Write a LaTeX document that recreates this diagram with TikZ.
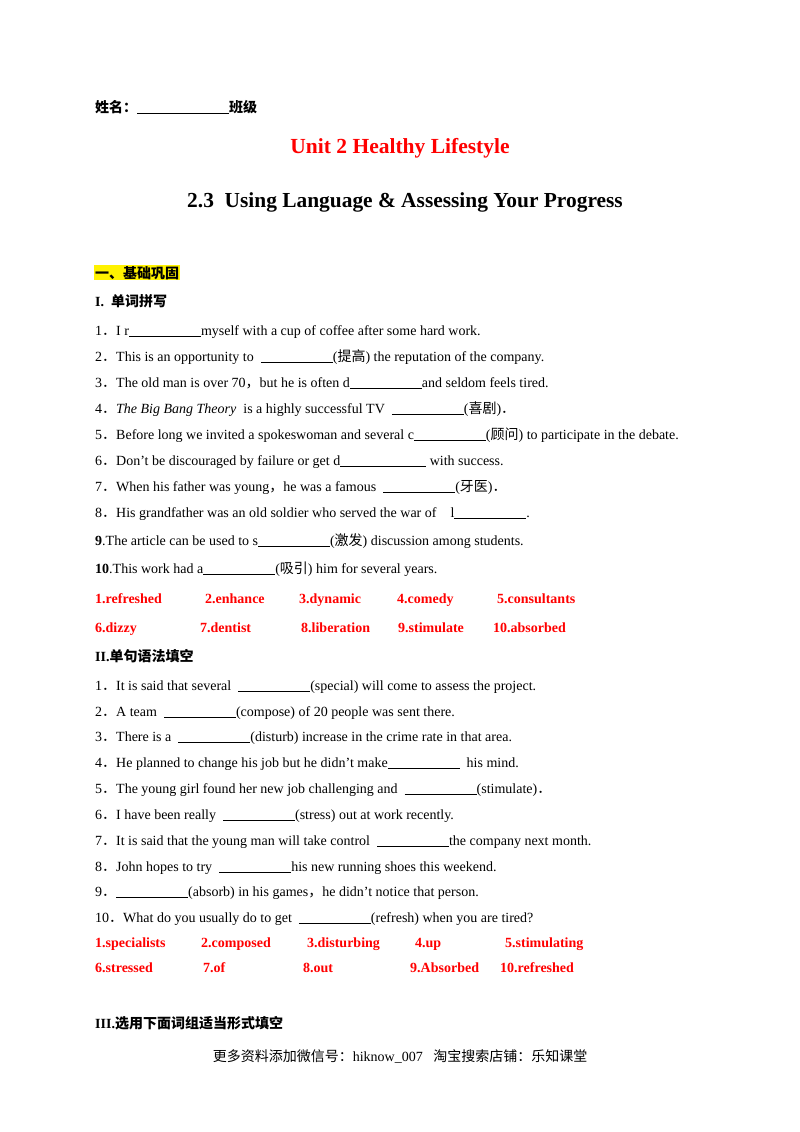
\documentclass[tikz,border=0pt]{standalone}
\usepackage{fontspec}
\setmainfont{Liberation Serif}
\newfontfamily\cjkf{Noto Sans CJK SC}
\newcommand{\cj}[1]{{\cjkf #1}}
\newcommand{\bl}[1]{\rule[-2pt]{#1pt}{0.6pt}}
\newcommand{\dt}{\cj{．}}
\definecolor{ansred}{RGB}{255,0,0}
\begin{document}
\begin{tikzpicture}[x=1pt,y=-1pt,
  txt/.style={anchor=base west,inner sep=0pt,yshift=-5pt,font=\fontsize{14}{16}\selectfont},
  hd/.style={txt,font=\fontsize{14}{16}\selectfont\bfseries},
  ans/.style={txt,text=ansred,font=\fontsize{14}{16}\selectfont\bfseries}]
\useasboundingbox[fill=white] (0,0) rectangle (800,1132);
\node[hd] (name) at (95,107) {\cj{姓名：}\bl{92}\cj{班级}};
\node[anchor=center,inner sep=0,text=ansred,font=\fontsize{21.5}{24}\selectfont\bfseries] (title) at (400,148) {Unit 2 Healthy Lifestyle};
\node[anchor=center,inner sep=0,font=\fontsize{21.4}{24}\selectfont\bfseries] (sub) at (405,202) {2.3\ \ Using Language \& Assessing Your Progress};
\node[hd,fill=yellow,inner sep=1pt] (s1) at (94,273) {\cj{一、基础巩固}};
\node[hd] (p1) at (95,301) {I.\ \ \cj{单词拼写}};
\node[txt] (a1) at (95,330) {1\dt I r\bl{72}myself with a cup of coffee after some hard work.};
\node[txt] (a2) at (95,356) {2\dt This is an opportunity to \ \bl{72}(\cj{提高}) the reputation of the company.};
\node[txt] (a3) at (95,382) {3\dt The old man is over 70\cj{，}but he is often d\bl{72}and seldom feels tired.};
\node[txt] (a4) at (95,408) {4\dt \textit{The Big Bang Theory}\ \ is a highly successful TV \ \bl{72}(\cj{喜剧})\cj{．}};
\node[txt] (a5) at (95,434) {5\dt Before long we invited a spokeswoman and several c\bl{72}(\cj{顾问}) to participate in the debate.};
\node[txt] (a6) at (95,460) {6\dt Don't be discouraged by failure or get d\bl{86} with success.};
\node[txt] (a7) at (95,486) {7\dt When his father was young\cj{，}he was a famous \ \bl{72}(\cj{牙医})\cj{．}};
\node[txt] (a8) at (95,512) {8\dt His grandfather was an old soldier who served the war of \ \ \ l\bl{72}.};
\node[txt] (a9) at (95,540) {\textbf{9}.The article can be used to s\bl{72}(\cj{激发}) discussion among students.};
\node[txt] (a10) at (95,568) {\textbf{10}.This work had a\bl{72}(\cj{吸引}) him for several years.};
\node[ans] (k1) at (95,598) {1.refreshed};
\node[ans] (k2) at (205,598) {2.enhance};
\node[ans] (k3) at (299,598) {3.dynamic};
\node[ans] (k4) at (397,598) {4.comedy};
\node[ans] (k5) at (497,598) {5.consultants};
\node[ans] (k6) at (95,627) {6.dizzy};
\node[ans] (k7) at (200,627) {7.dentist};
\node[ans] (k8) at (301,627) {8.liberation};
\node[ans] (k9) at (398,627) {9.stimulate};
\node[ans] (k10) at (493,627) {10.absorbed};
\node[hd] (p2) at (95,656) {II.\cj{单句语法填空}};
\node[txt] (b1) at (95,685) {1\dt It is said that several \ \bl{72}(special) will come to assess the project.};
\node[txt] (b2) at (95,711) {2\dt A team \ \bl{72}(compose) of 20 people was sent there.};
\node[txt] (b3) at (95,736) {3\dt There is a \ \bl{72}(disturb) increase in the crime rate in that area.};
\node[txt] (b4) at (95,762) {4\dt He planned to change his job but he didn't make\bl{72} \ his mind.};
\node[txt] (b5) at (95,788) {5\dt The young girl found her new job challenging and \ \bl{72}(stimulate)\cj{．}};
\node[txt] (b6) at (95,814) {6\dt I have been really \ \bl{72}(stress) out at work recently.};
\node[txt] (b7) at (95,840) {7\dt It is said that the young man will take control \ \bl{72}the company next month.};
\node[txt] (b8) at (95,866) {8\dt John hopes to try \ \bl{72}his new running shoes this weekend.};
\node[txt] (b9) at (95,891) {9\dt \bl{72}(absorb) in his games\cj{，}he didn't notice that person.};
\node[txt] (b10) at (95,917) {10\dt What do you usually do to get \ \bl{72}(refresh) when you are tired?};
\node[ans] (m1) at (95,942) {1.specialists};
\node[ans] (m2) at (201,942) {2.composed};
\node[ans] (m3) at (307,942) {3.disturbing};
\node[ans] (m4) at (415,942) {4.up};
\node[ans] (m5) at (505,942) {5.stimulating};
\node[ans] (m6) at (95,967) {6.stressed};
\node[ans] (m7) at (203,967) {7.of};
\node[ans] (m8) at (303,967) {8.out};
\node[ans] (m9) at (410,967) {9.Absorbed};
\node[ans] (m10) at (500,967) {10.refreshed};
\node[hd] (p3) at (95,1023) {III.\cj{选用下面词组适当形式填空}};
\node[anchor=center,inner sep=0,font=\fontsize{14}{16}\selectfont] (foot) at (400,1056) {\cj{更多资料添加微信号：}hiknow\_007\ \ \ \cj{淘宝搜索店铺：乐知课堂}};
\end{tikzpicture}
\end{document}
